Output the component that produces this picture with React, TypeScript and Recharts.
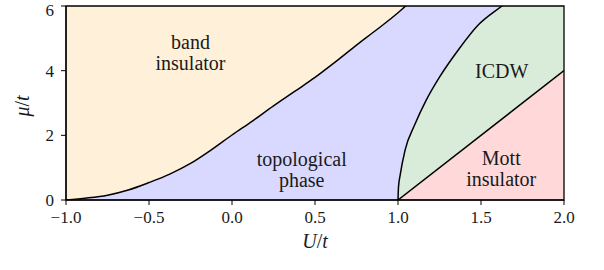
import React from 'react';
import { ComposedChart, Area, Scatter, XAxis, YAxis, ReferenceArea } from 'recharts';

// Band insulator / topological phase boundary (continues above the frame, clipped)
const bandU = [-1, -0.875, -0.75, -0.625, -0.5, -0.375, -0.25, -0.125, 0, 0.125, 0.25, 0.375, 0.5, 0.625, 0.75, 0.875, 1.0, 1.046, 1.15, 2.0];
const bandMu = [0, 0.06, 0.15, 0.31, 0.54, 0.8, 1.13, 1.55, 2.01, 2.45, 2.91, 3.35, 3.79, 4.28, 4.79, 5.28, 5.79, 6, 6.5, 6.5];

// Topological phase / ICDW boundary (continues above the frame, clipped)
const icdwU = [1, 1.003, 1.013, 1.043, 1.1, 1.17, 1.25, 1.363, 1.483, 1.626, 1.75, 2.0];
const icdwMu = [0, 0.4, 0.77, 1.55, 2.32, 3.09, 3.8, 4.64, 5.41, 6, 6.5, 6.5];

// ICDW / Mott insulator boundary
const mottU = [1, 2];
const mottMu = [0, 4];

// Whole domain (band insulator background)
const bgU = [-1, 2];
const bgMu = [6, 6];

const xTicks = [-1, -0.5, 0, 0.5, 1, 1.5, 2];
const yTicks = [0, 2, 4, 6];

const regionLabels = [
  { u: -0.25, mu: 4.67, lines: ['band', 'insulator'] },
  { u: 0.42, mu: 1.05, lines: ['topological', 'phase'] },
  { u: 1.625, mu: 3.77, lines: ['ICDW'] },
  { u: 1.622, mu: 1.08, lines: ['Mott', 'insulator'] },
];

const toRows = (us: number[], mus: number[]) => us.map((u, i) => ({ u, mu: mus[i] }));

const FONT = '"Liberation Serif", "DejaVu Serif", serif';
const FS = 20;
const TFS = 17;
const TXT = '#1a1a1a';

const fmtX = (v: number) => v.toFixed(1).replace('-', '\u2212');

const LabelShape = (props: any) => {
  const { cx, cy, payload } = props;
  const lines: string[] = payload?.lines ?? [];
  return (
    <g>
      {lines.map((l, i) => (
        <text
          key={i}
          x={cx}
          y={cy + i * 21.3}
          textAnchor="middle"
          fontFamily={FONT}
          fontSize={FS}
          fill={TXT}
        >
          {l}
        </text>
      ))}
    </g>
  );
};

const AxisTitle = ({ x, y, rotate, sym }: { x: number; y: number; rotate?: boolean; sym: string }) => (
  <text
    x={0}
    y={0}
    transform={`translate(${x},${y})${rotate ? ' rotate(-90)' : ''}`}
    textAnchor="middle"
    fontFamily={FONT}
    fontSize={FS}
    fill={TXT}
  >
    <tspan fontStyle="italic">{sym}</tspan>
    <tspan>/</tspan>
    <tspan fontStyle="italic">t</tspan>
  </text>
);

export default function App() {
  return (
    <div style={{ position: 'absolute', left: 0, top: 0, fontFamily: FONT }}>
      <ComposedChart
        width={604}
        height={270}
        margin={{ top: 6, right: 40, bottom: 0, left: 0 }}
        style={{ fontFamily: FONT }}
      >
        <XAxis
          dataKey="u"
          type="number"
          domain={[-1, 2]}
          ticks={xTicks}
          tickFormatter={fmtX}
          allowDataOverflow
          height={70}
          tickSize={5}
          tickMargin={6}
          stroke="#000"
          tick={{ style: { fontFamily: FONT }, fontFamily: FONT, fontSize: TFS, fill: TXT }}
          tickLine={{ stroke: '#000', strokeWidth: 1 }}
          axisLine={{ stroke: '#000', strokeWidth: 1.2 }}
          label={{ content: () => <AxisTitle x={315} y={248} sym="U" /> }}
        />
        <YAxis
          dataKey="mu"
          type="number"
          domain={[0, 6]}
          ticks={yTicks}
          allowDataOverflow
          width={66}
          tickSize={5}
          tickMargin={7}
          stroke="#000"
          tick={{ style: { fontFamily: FONT }, fontFamily: FONT, fontSize: TFS, fill: TXT }}
          tickLine={{ stroke: '#000', strokeWidth: 1 }}
          axisLine={{ stroke: '#000', strokeWidth: 1.2 }}
          label={{ content: () => <AxisTitle x={29} y={106} rotate sym="μ" /> }}
        />
        <Area
          data={toRows(bgU, bgMu)}
          dataKey="mu"
          type="linear"
          fill="#fff1d9"
          fillOpacity={1}
          stroke="none"
          isAnimationActive={false}
          activeDot={false}
          dot={false}
        />
        <Area
          data={toRows(bandU, bandMu)}
          dataKey="mu"
          type="monotone"
          fill="#d9d9ff"
          fillOpacity={1}
          stroke="#000"
          strokeWidth={1.5}
          isAnimationActive={false}
          activeDot={false}
          dot={false}
        />
        <Area
          data={toRows(icdwU, icdwMu)}
          dataKey="mu"
          type="monotone"
          fill="#d9ecd9"
          fillOpacity={1}
          stroke="#000"
          strokeWidth={1.5}
          isAnimationActive={false}
          activeDot={false}
          dot={false}
        />
        <Area
          data={toRows(mottU, mottMu)}
          dataKey="mu"
          type="linear"
          fill="#ffd9d9"
          fillOpacity={1}
          stroke="#000"
          strokeWidth={1.5}
          isAnimationActive={false}
          activeDot={false}
          dot={false}
        />
        <Scatter data={regionLabels} dataKey="mu" shape={LabelShape} isAnimationActive={false} />
        <ReferenceArea x1={-1} x2={2} y1={0} y2={6} fill="none" stroke="#000" strokeWidth={1.3} ifOverflow="visible" />
      </ComposedChart>
    </div>
  );
}
